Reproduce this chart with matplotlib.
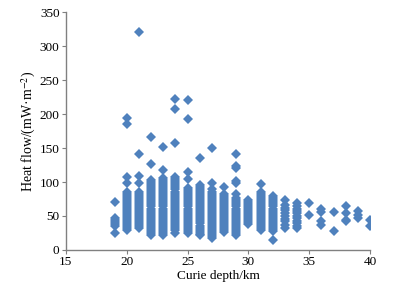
import matplotlib.pyplot as plt

# Heat flow values (mW/m^2), grouped by Curie depth (km)
depth_km = [19, 20, 21, 22, 23, 24, 25, 26, 27, 28, 29, 30,
            31, 32, 33, 34, 35, 36, 37, 38, 39, 40]

heat_flow = [
    [71, 47, 44, 41, 38, 35, 25],
    [194, 185, 107, 98, 86, 83, 80, 77, 74, 71, 68, 65, 62, 59, 56, 53, 50,
     47, 44, 41, 38, 35, 32, 29],
    [320, 141, 109, 99, 86, 83, 80, 77, 74, 71, 68, 65, 62, 59, 56, 53, 50,
     47, 44, 41, 38, 35, 32],
    [166, 126, 103, 100, 97, 94, 91, 88, 85, 82, 79, 76, 73, 70, 67, 64, 61,
     58, 55, 52, 49, 46, 43, 40, 37, 34, 31, 28, 25, 22],
    [151, 118, 106, 103, 100, 97, 94, 91, 88, 85, 82, 79, 76, 73, 70, 67, 64,
     61, 58, 55, 52, 49, 46, 43, 40, 37, 34, 31, 28, 25, 22],
    [222, 208, 157, 107, 104, 101, 98, 95, 92, 89, 86, 83, 80, 77, 74, 71, 68,
     65, 62, 59, 56, 53, 50, 47, 44, 41, 38, 35, 32, 29, 25],
    [221, 193, 115, 104, 91, 88, 85, 82, 79, 76, 73, 70, 67, 64, 61, 58, 55,
     52, 49, 46, 43, 40, 37, 34, 31, 28, 25],
    [136, 96, 93, 90, 87, 84, 81, 78, 75, 72, 69, 66, 63, 60, 57, 54, 51, 48,
     45, 42, 39, 36, 33, 30, 27, 24, 22],
    [150, 99, 89, 86, 83, 80, 77, 74, 71, 68, 65, 62, 59, 56, 53, 50, 47, 44,
     41, 38, 35, 32, 29, 26, 23, 20, 17],
    [93, 83, 80, 77, 74, 71, 68, 65, 62, 59, 56, 53, 50, 47, 44, 41, 38, 35,
     32, 29, 26],
    [141, 123, 120, 101, 98, 82, 76, 73, 70, 67, 64, 61, 58, 55, 52, 49, 46,
     43, 40, 37, 34, 31, 28, 25, 22],
    [74, 71, 68, 65, 62, 59, 56, 53, 50, 47, 44, 41, 38],
    [97, 86, 83, 80, 77, 74, 71, 68, 65, 62, 59, 56, 53, 50, 47, 44, 41, 38,
     35, 32, 30],
    [80, 76, 73, 70, 67, 64, 61, 58, 55, 52, 49, 46, 43, 40, 37, 34, 31, 28,
     15],
    [73, 66, 62, 59, 54, 50, 46, 42, 37, 33],
    [69, 64, 61, 57, 54, 50, 47, 43, 40, 36, 32],
    [69, 51],
    [61, 56, 42, 37],
    [56, 28],
    [65, 54, 44, 42],
    [58, 51, 47],
    [44, 35],
]

plt.rcParams['font.family'] = ['Liberation Serif', 'DejaVu Serif']
plt.rcParams['mathtext.fontset'] = 'stix'

fig = plt.figure(figsize=(4.04, 2.88), dpi=100)
ax = fig.add_axes([0.163, 0.132, 0.753, 0.826])

for d, vals in zip(depth_km, heat_flow):
    ax.plot([d] * len(vals), vals, linestyle='none', marker='D',
            markersize=4.9, color='#4F81BD', markeredgewidth=0)

ax.set_xlim(15, 40)
ax.set_ylim(0, 350)
ax.set_xticks([15, 20, 25, 30, 35, 40])
ax.set_yticks(range(0, 351, 50))

for side in ['top', 'right']:
    ax.spines[side].set_visible(False)
for side in ['left', 'bottom']:
    ax.spines[side].set_color('#808080')
    ax.spines[side].set_linewidth(1.0)
ax.tick_params(direction='out', length=3, width=0.8, color='#808080',
               labelsize=9.5, pad=1.5)

ax.set_xlabel('Curie depth/km', fontsize=9.5, labelpad=1)
ax.set_ylabel('Heat flow/(mW·m$^{-2}$)', fontsize=10, labelpad=1)

fig.savefig('out.png', dpi=100)
